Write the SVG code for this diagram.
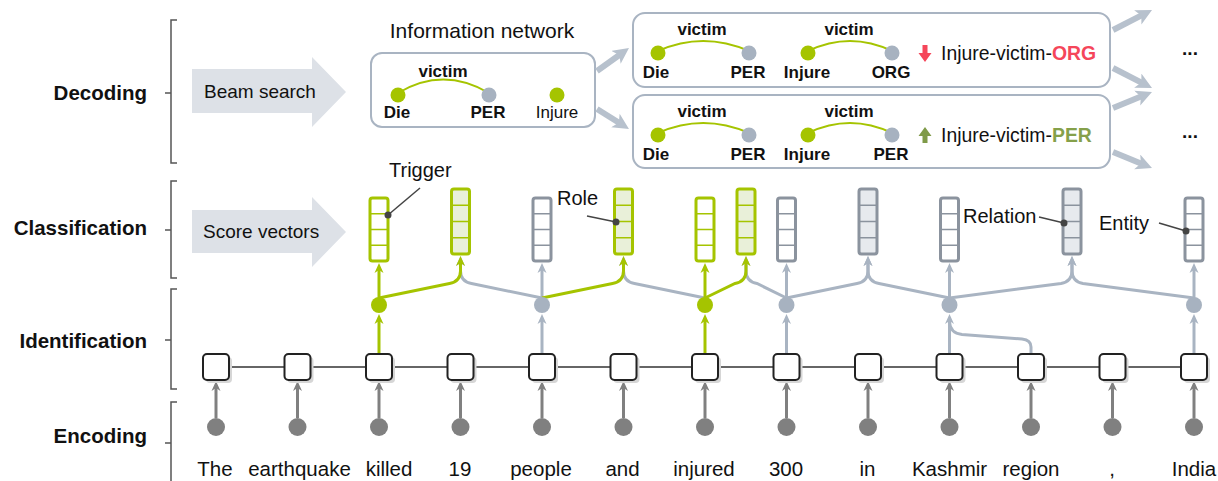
<svg xmlns="http://www.w3.org/2000/svg" width="1218" height="481" viewBox="0 0 1218 481">
<style>
text{font-family:"Liberation Sans",Arial,sans-serif;fill:#111}
.lbl{font-size:20.5px;font-weight:bold;text-anchor:end}
.big{font-size:19px}
.ann{font-size:20px}
.b17{font-size:17px;font-weight:bold;text-anchor:middle}
.r17{font-size:17px;text-anchor:middle}
.word{font-size:20.5px;text-anchor:middle}
.brk{fill:none;stroke:#555;stroke-width:1.5}
.bigarrow{fill:#dde1e7}
.net{fill:#fff;stroke:#a9b4c2;stroke-width:2}
.arc{fill:none;stroke:#a5c400;stroke-width:2}
.gdot{fill:#a5c400}
.bdot{fill:#a7b2c0}
.edot{fill:#808080}
.gl{fill:none;stroke:#a5c400;stroke-width:3}
.bl{fill:none;stroke:#a9b4c2;stroke-width:3}
.el{fill:none;stroke:#808080;stroke-width:3}
.fat{fill:none;stroke:#b7c1cd;stroke-width:6}
.vg{fill:#fff;stroke:#a5c400;stroke-width:3}
.vgf{fill:#e9f0d9;stroke:#a5c400;stroke-width:3}
.vb{fill:#fff;stroke:#8b939e;stroke-width:3}
.vbf{fill:#e7eaee;stroke:#8b939e;stroke-width:3}
.dg{stroke:#a5c400;stroke-width:1.5}
.db{stroke:#8b939e;stroke-width:1.5}
.lead{stroke:#444;stroke-width:1.5;fill:none}
.box{fill:#fff;stroke:#222;stroke-width:2}
.shadow{fill:#d6d6d6}
.chain{stroke:#333;stroke-width:1.5}
</style>
<defs>
<marker id="mg" markerUnits="userSpaceOnUse" markerWidth="10" markerHeight="10" refX="4" refY="5" orient="auto"><path d="M0,0.5 L10,5 L0,9.5 L3,5 z" fill="#a5c400"/></marker>
<marker id="mb" markerUnits="userSpaceOnUse" markerWidth="10" markerHeight="10" refX="4" refY="5" orient="auto"><path d="M0,0.5 L10,5 L0,9.5 L3,5 z" fill="#a9b4c2"/></marker>
<marker id="me" markerUnits="userSpaceOnUse" markerWidth="10" markerHeight="10" refX="4" refY="5" orient="auto"><path d="M0,0.5 L10,5 L0,9.5 L3,5 z" fill="#808080"/></marker>
<marker id="mf" markerUnits="userSpaceOnUse" markerWidth="18" markerHeight="18" refX="8" refY="8" orient="auto"><path d="M0,0 L16,8 L0,16 L4,8 z" fill="#b7c1cd"/></marker>
</defs>

<g id="brackets">
<path class="brk" d="M177,20 H171 V163 H177 M165,93 H171"/>
<path class="brk" d="M177,181 H171 V278 H177 M165,230 H171"/>
<path class="brk" d="M177,289 H171 V389 H177 M165,340 H171"/>
<path class="brk" d="M177,402 H171 V490 M165,443 H171"/>
<text class="lbl" x="147" y="100">Decoding</text>
<text class="lbl" x="147" y="235">Classification</text>
<text class="lbl" x="147" y="348">Identification</text>
<text class="lbl" x="147" y="443">Encoding</text>
</g>

<g id="beam-search">
<polygon class="bigarrow" points="192,69 312,69 312,57 346,92 312,127 312,113 192,113"/>
<text class="big" x="204" y="98">Beam search</text>
</g>
<g id="score-vectors">
<polygon class="bigarrow" points="192,210 312,210 312,197 346,232 312,267 312,253 192,253"/>
<text class="big" x="203" y="238">Score vectors</text>
</g>

<g id="info-network">
<text x="482" y="38" font-size="21" text-anchor="middle">Information network</text>
<rect class="net" x="371" y="53" width="224" height="74" rx="11"/>
<path class="arc" d="M398,93 Q443,66 489,93"/>
<circle class="gdot" cx="398" cy="95" r="7.5"/>
<circle class="bdot" cx="489" cy="95" r="7.5"/>
<circle class="gdot" cx="557" cy="95" r="7.5"/>
<text class="b17" x="443" y="77">victim</text>
<text class="b17" x="397" y="118">Die</text>
<text class="b17" x="488" y="118">PER</text>
<text class="r17" x="557" y="118">Injure</text>
</g>

<g id="candidate-1">
<rect class="net" x="633" y="13" width="477" height="74" rx="12"/>
<path class="arc" d="M658,51 Q703,31 749,51"/>
<path class="arc" d="M808,51 Q850,31 892,51"/>
<circle class="gdot" cx="658" cy="53" r="7.5"/>
<circle class="bdot" cx="749" cy="53" r="7.5"/>
<circle class="gdot" cx="808" cy="53" r="7.5"/>
<circle class="bdot" cx="892" cy="53" r="7.5"/>
<text class="b17" x="702" y="35">victim</text>
<text class="b17" x="849" y="35">victim</text>
<text class="b17" x="656" y="78">Die</text>
<text class="b17" x="748" y="78">PER</text>
<text class="b17" x="807" y="78">Injure</text>
<text class="b17" x="891" y="78">ORG</text>
<polygon points="922.5,45 927.5,45 927.5,53 931.5,53 925,62 918.5,53 922.5,53" fill="#f5465a"/>
<text x="941" y="60" font-size="19.4">Injure-victim-<tspan font-weight="bold" style="fill:#f5465a">ORG</tspan></text>
</g>

<g id="candidate-2">
<rect class="net" x="633" y="95" width="477" height="73" rx="12"/>
<path class="arc" d="M658,133 Q703,113 749,133"/>
<path class="arc" d="M808,133 Q850,113 892,133"/>
<circle class="gdot" cx="658" cy="135" r="7.5"/>
<circle class="bdot" cx="749" cy="135" r="7.5"/>
<circle class="gdot" cx="808" cy="135" r="7.5"/>
<circle class="bdot" cx="892" cy="135" r="7.5"/>
<text class="b17" x="702" y="117">victim</text>
<text class="b17" x="849" y="117">victim</text>
<text class="b17" x="656" y="160">Die</text>
<text class="b17" x="748" y="160">PER</text>
<text class="b17" x="807" y="160">Injure</text>
<text class="b17" x="891" y="160">PER</text>
<polygon points="925,127 931.5,136 927.5,136 927.5,143 922.5,143 922.5,136 918.5,136" fill="#7f9a48"/>
<text x="941" y="142" font-size="19.4">Injure-victim-<tspan font-weight="bold" style="fill:#85a04a">PER</tspan></text>
</g>

<g id="ellipsis">
<text x="1190" y="55" font-size="19" font-weight="bold" text-anchor="middle">...</text>
<text x="1190" y="138" font-size="19" font-weight="bold" text-anchor="middle">...</text>
</g>

<g id="connectors">
<path class="fat" d="M597,71 L622.5,52.7" marker-end="url(#mf)"/>
<path class="fat" d="M597,109 L622.2,124.8" marker-end="url(#mf)"/>
<path class="fat" d="M1113,30 L1144.9,13.7" marker-end="url(#mf)"/>
<path class="fat" d="M1113,68 L1144.9,84.3" marker-end="url(#mf)"/>
<path class="fat" d="M1113,108 L1144.6,95" marker-end="url(#mf)"/>
<path class="fat" d="M1113,152 L1144.6,165" marker-end="url(#mf)"/>

<path class="bl" d="M542,298 L471.5,283.5 Q460.5,281.5 460.5,271 V262" marker-end="url(#mb)"/>
<path class="bl" d="M705,298 L634.5,283.5 Q623.5,281.5 623.5,271 V262" marker-end="url(#mb)"/>
<path class="bl" d="M786.5,298 L757,283.5 Q746,281.5 746,271 V262" marker-end="url(#mb)"/>
<path class="bl" d="M786.5,298 L857,283.5 Q868,281.5 868,271 V262" marker-end="url(#mb)"/>
<path class="bl" d="M949.5,298 L879,283.5 Q868,281.5 868,271 V262" marker-end="url(#mb)"/>
<path class="bl" d="M949.5,298 L1061,283.5 Q1072,281.5 1072,271 V262" marker-end="url(#mb)"/>
<path class="bl" d="M1194,298 L1083,283.5 Q1072,281.5 1072,271 V262" marker-end="url(#mb)"/>
<path class="bl" d="M542,300 V269" marker-end="url(#mb)"/>
<path class="bl" d="M786.5,300 V269" marker-end="url(#mb)"/>
<path class="bl" d="M949.5,300 V269" marker-end="url(#mb)"/>
<path class="bl" d="M1194,300 V269" marker-end="url(#mb)"/>
<path class="gl" d="M379,298 L449.5,283.5 Q460.5,281.5 460.5,271 V262" marker-end="url(#mg)"/>
<path class="gl" d="M542,298 L612.5,283.5 Q623.5,281.5 623.5,271 V262" marker-end="url(#mg)"/>
<path class="gl" d="M705,298 L735,283.5 Q746,281.5 746,271 V262" marker-end="url(#mg)"/>
<path class="gl" d="M379,300 V269" marker-end="url(#mg)"/>
<path class="gl" d="M705,300 V269" marker-end="url(#mg)"/>

<path class="gl" d="M379,354 V320" marker-end="url(#mg)"/>
<path class="gl" d="M705,354 V320" marker-end="url(#mg)"/>
<path class="bl" d="M542,354 V320" marker-end="url(#mb)"/>
<path class="bl" d="M786.5,354 V320" marker-end="url(#mb)"/>
<path class="bl" d="M949.5,354 V320" marker-end="url(#mb)"/>
<path class="bl" d="M1194,354 V320" marker-end="url(#mb)"/>
<path class="bl" d="M1031,354 V347 Q1031,340 1022,339 L962,334.5 Q950,333 949.5,322"/>

<path class="el" d="M216,418 V387" marker-end="url(#me)"/>
<path class="el" d="M297.5,418 V387" marker-end="url(#me)"/>
<path class="el" d="M379,418 V387" marker-end="url(#me)"/>
<path class="el" d="M460.5,418 V387" marker-end="url(#me)"/>
<path class="el" d="M542,418 V387" marker-end="url(#me)"/>
<path class="el" d="M623.5,418 V387" marker-end="url(#me)"/>
<path class="el" d="M705,418 V387" marker-end="url(#me)"/>
<path class="el" d="M786.5,418 V387" marker-end="url(#me)"/>
<path class="el" d="M868,418 V387" marker-end="url(#me)"/>
<path class="el" d="M949.5,418 V387" marker-end="url(#me)"/>
<path class="el" d="M1031,418 V387" marker-end="url(#me)"/>
<path class="el" d="M1112.5,418 V387" marker-end="url(#me)"/>
<path class="el" d="M1194,418 V387" marker-end="url(#me)"/>

<path class="chain" d="M216,367 H1194"/>
</g>

<g id="identification-dots">
<circle class="gdot" cx="379" cy="305" r="8"/>
<circle class="bdot" cx="542" cy="305" r="8"/>
<circle class="gdot" cx="705" cy="305" r="8"/>
<circle class="bdot" cx="786.5" cy="305" r="8"/>
<circle class="bdot" cx="949.5" cy="305" r="8"/>
<circle class="bdot" cx="1194" cy="305" r="8"/>
</g>

<g id="score-vector-killed">
<rect class="vg" x="370" y="198" width="18" height="63" rx="2.5"/>
<path class="dg" d="M370,213.75 H388 M370,229.5 H388 M370,245.25 H388"/>
</g>
<g id="score-vector-people">
<rect class="vb" x="533" y="198" width="18" height="63" rx="2.5"/>
<path class="db" d="M533,213.75 H551 M533,229.5 H551 M533,245.25 H551"/>
</g>
<g id="score-vector-injured">
<rect class="vg" x="696" y="198" width="18" height="63" rx="2.5"/>
<path class="dg" d="M696,213.75 H714 M696,229.5 H714 M696,245.25 H714"/>
</g>
<g id="score-vector-300">
<rect class="vb" x="777.5" y="198" width="18" height="63" rx="2.5"/>
<path class="db" d="M777.5,213.75 H795.5 M777.5,229.5 H795.5 M777.5,245.25 H795.5"/>
</g>
<g id="score-vector-kashmir">
<rect class="vb" x="940.5" y="198" width="18" height="63" rx="2.5"/>
<path class="db" d="M940.5,213.75 H958.5 M940.5,229.5 H958.5 M940.5,245.25 H958.5"/>
</g>
<g id="score-vector-india">
<rect class="vb" x="1185" y="198" width="18" height="63" rx="2.5"/>
<path class="db" d="M1185,213.75 H1203 M1185,229.5 H1203 M1185,245.25 H1203"/>
</g>
<g id="score-vector-killed-people">
<rect class="vgf" x="451.5" y="189" width="18" height="65" rx="2.5"/>
<path class="dg" d="M451.5,205.25 H469.5 M451.5,221.5 H469.5 M451.5,237.75 H469.5"/>
</g>
<g id="score-vector-people-injured">
<rect class="vgf" x="614.5" y="189" width="18" height="65" rx="2.5"/>
<path class="dg" d="M614.5,205.25 H632.5 M614.5,221.5 H632.5 M614.5,237.75 H632.5"/>
</g>
<g id="score-vector-injured-300">
<rect class="vgf" x="737" y="189" width="18" height="65" rx="2.5"/>
<path class="dg" d="M737,205.25 H755 M737,221.5 H755 M737,237.75 H755"/>
</g>
<g id="score-vector-300-kashmir">
<rect class="vbf" x="859" y="189" width="18" height="65" rx="2.5"/>
<path class="db" d="M859,205.25 H877 M859,221.5 H877 M859,237.75 H877"/>
</g>
<g id="score-vector-kashmir-india">
<rect class="vbf" x="1063" y="189" width="18" height="65" rx="2.5"/>
<path class="db" d="M1063,205.25 H1081 M1063,221.5 H1081 M1063,237.75 H1081"/>
</g>

<g id="annotations">
<text class="ann" x="389" y="177">Trigger</text>
<path class="lead" d="M420,188 L388,215"/>
<circle cx="388" cy="215" r="3.5" fill="#444"/>
<text class="ann" x="557" y="205">Role</text>
<path class="lead" d="M587,216 L616,222"/>
<circle cx="616" cy="222" r="3.5" fill="#444"/>
<text class="ann" x="963" y="223">Relation</text>
<path class="lead" d="M1039,217 L1064,223"/>
<circle cx="1064" cy="223" r="3.5" fill="#444"/>
<text class="ann" x="1099" y="230">Entity</text>
<path class="lead" d="M1159,223 L1186,231"/>
<circle cx="1186" cy="231" r="3.5" fill="#444"/>
</g>

<g id="encoders">
<g id="enc-0"><rect class="shadow" x="206" y="357" width="26" height="26" rx="4"/><rect class="box" x="203" y="354" width="26" height="26" rx="4"/></g>
<g id="enc-1"><rect class="shadow" x="287.5" y="357" width="26" height="26" rx="4"/><rect class="box" x="284.5" y="354" width="26" height="26" rx="4"/></g>
<g id="enc-2"><rect class="shadow" x="369" y="357" width="26" height="26" rx="4"/><rect class="box" x="366" y="354" width="26" height="26" rx="4"/></g>
<g id="enc-3"><rect class="shadow" x="450.5" y="357" width="26" height="26" rx="4"/><rect class="box" x="447.5" y="354" width="26" height="26" rx="4"/></g>
<g id="enc-4"><rect class="shadow" x="532" y="357" width="26" height="26" rx="4"/><rect class="box" x="529" y="354" width="26" height="26" rx="4"/></g>
<g id="enc-5"><rect class="shadow" x="613.5" y="357" width="26" height="26" rx="4"/><rect class="box" x="610.5" y="354" width="26" height="26" rx="4"/></g>
<g id="enc-6"><rect class="shadow" x="695" y="357" width="26" height="26" rx="4"/><rect class="box" x="692" y="354" width="26" height="26" rx="4"/></g>
<g id="enc-7"><rect class="shadow" x="776.5" y="357" width="26" height="26" rx="4"/><rect class="box" x="773.5" y="354" width="26" height="26" rx="4"/></g>
<g id="enc-8"><rect class="shadow" x="858" y="357" width="26" height="26" rx="4"/><rect class="box" x="855" y="354" width="26" height="26" rx="4"/></g>
<g id="enc-9"><rect class="shadow" x="939.5" y="357" width="26" height="26" rx="4"/><rect class="box" x="936.5" y="354" width="26" height="26" rx="4"/></g>
<g id="enc-10"><rect class="shadow" x="1021" y="357" width="26" height="26" rx="4"/><rect class="box" x="1018" y="354" width="26" height="26" rx="4"/></g>
<g id="enc-11"><rect class="shadow" x="1102.5" y="357" width="26" height="26" rx="4"/><rect class="box" x="1099.5" y="354" width="26" height="26" rx="4"/></g>
<g id="enc-12"><rect class="shadow" x="1184" y="357" width="26" height="26" rx="4"/><rect class="box" x="1181" y="354" width="26" height="26" rx="4"/></g>
</g>

<g id="embeddings">
<circle class="edot" cx="216" cy="427" r="9"/>
<circle class="edot" cx="297.5" cy="427" r="9"/>
<circle class="edot" cx="379" cy="427" r="9"/>
<circle class="edot" cx="460.5" cy="427" r="9"/>
<circle class="edot" cx="542" cy="427" r="9"/>
<circle class="edot" cx="623.5" cy="427" r="9"/>
<circle class="edot" cx="705" cy="427" r="9"/>
<circle class="edot" cx="786.5" cy="427" r="9"/>
<circle class="edot" cx="868" cy="427" r="9"/>
<circle class="edot" cx="949.5" cy="427" r="9"/>
<circle class="edot" cx="1031" cy="427" r="9"/>
<circle class="edot" cx="1112.5" cy="427" r="9"/>
<circle class="edot" cx="1194" cy="427" r="9"/>
</g>

<g id="words">
<text class="word" x="215" y="476">The</text>
<text class="word" x="299.5" y="476">earthquake</text>
<text class="word" x="389" y="476">killed</text>
<text class="word" x="460" y="476">19</text>
<text class="word" x="541" y="476">people</text>
<text class="word" x="622.5" y="476">and</text>
<text class="word" x="704" y="476">injured</text>
<text class="word" x="786" y="476">300</text>
<text class="word" x="867.5" y="476">in</text>
<text class="word" x="949.5" y="476">Kashmir</text>
<text class="word" x="1031" y="476">region</text>
<text class="word" x="1112" y="476">,</text>
<text class="word" x="1194" y="476">India</text>
</g>
</svg>
